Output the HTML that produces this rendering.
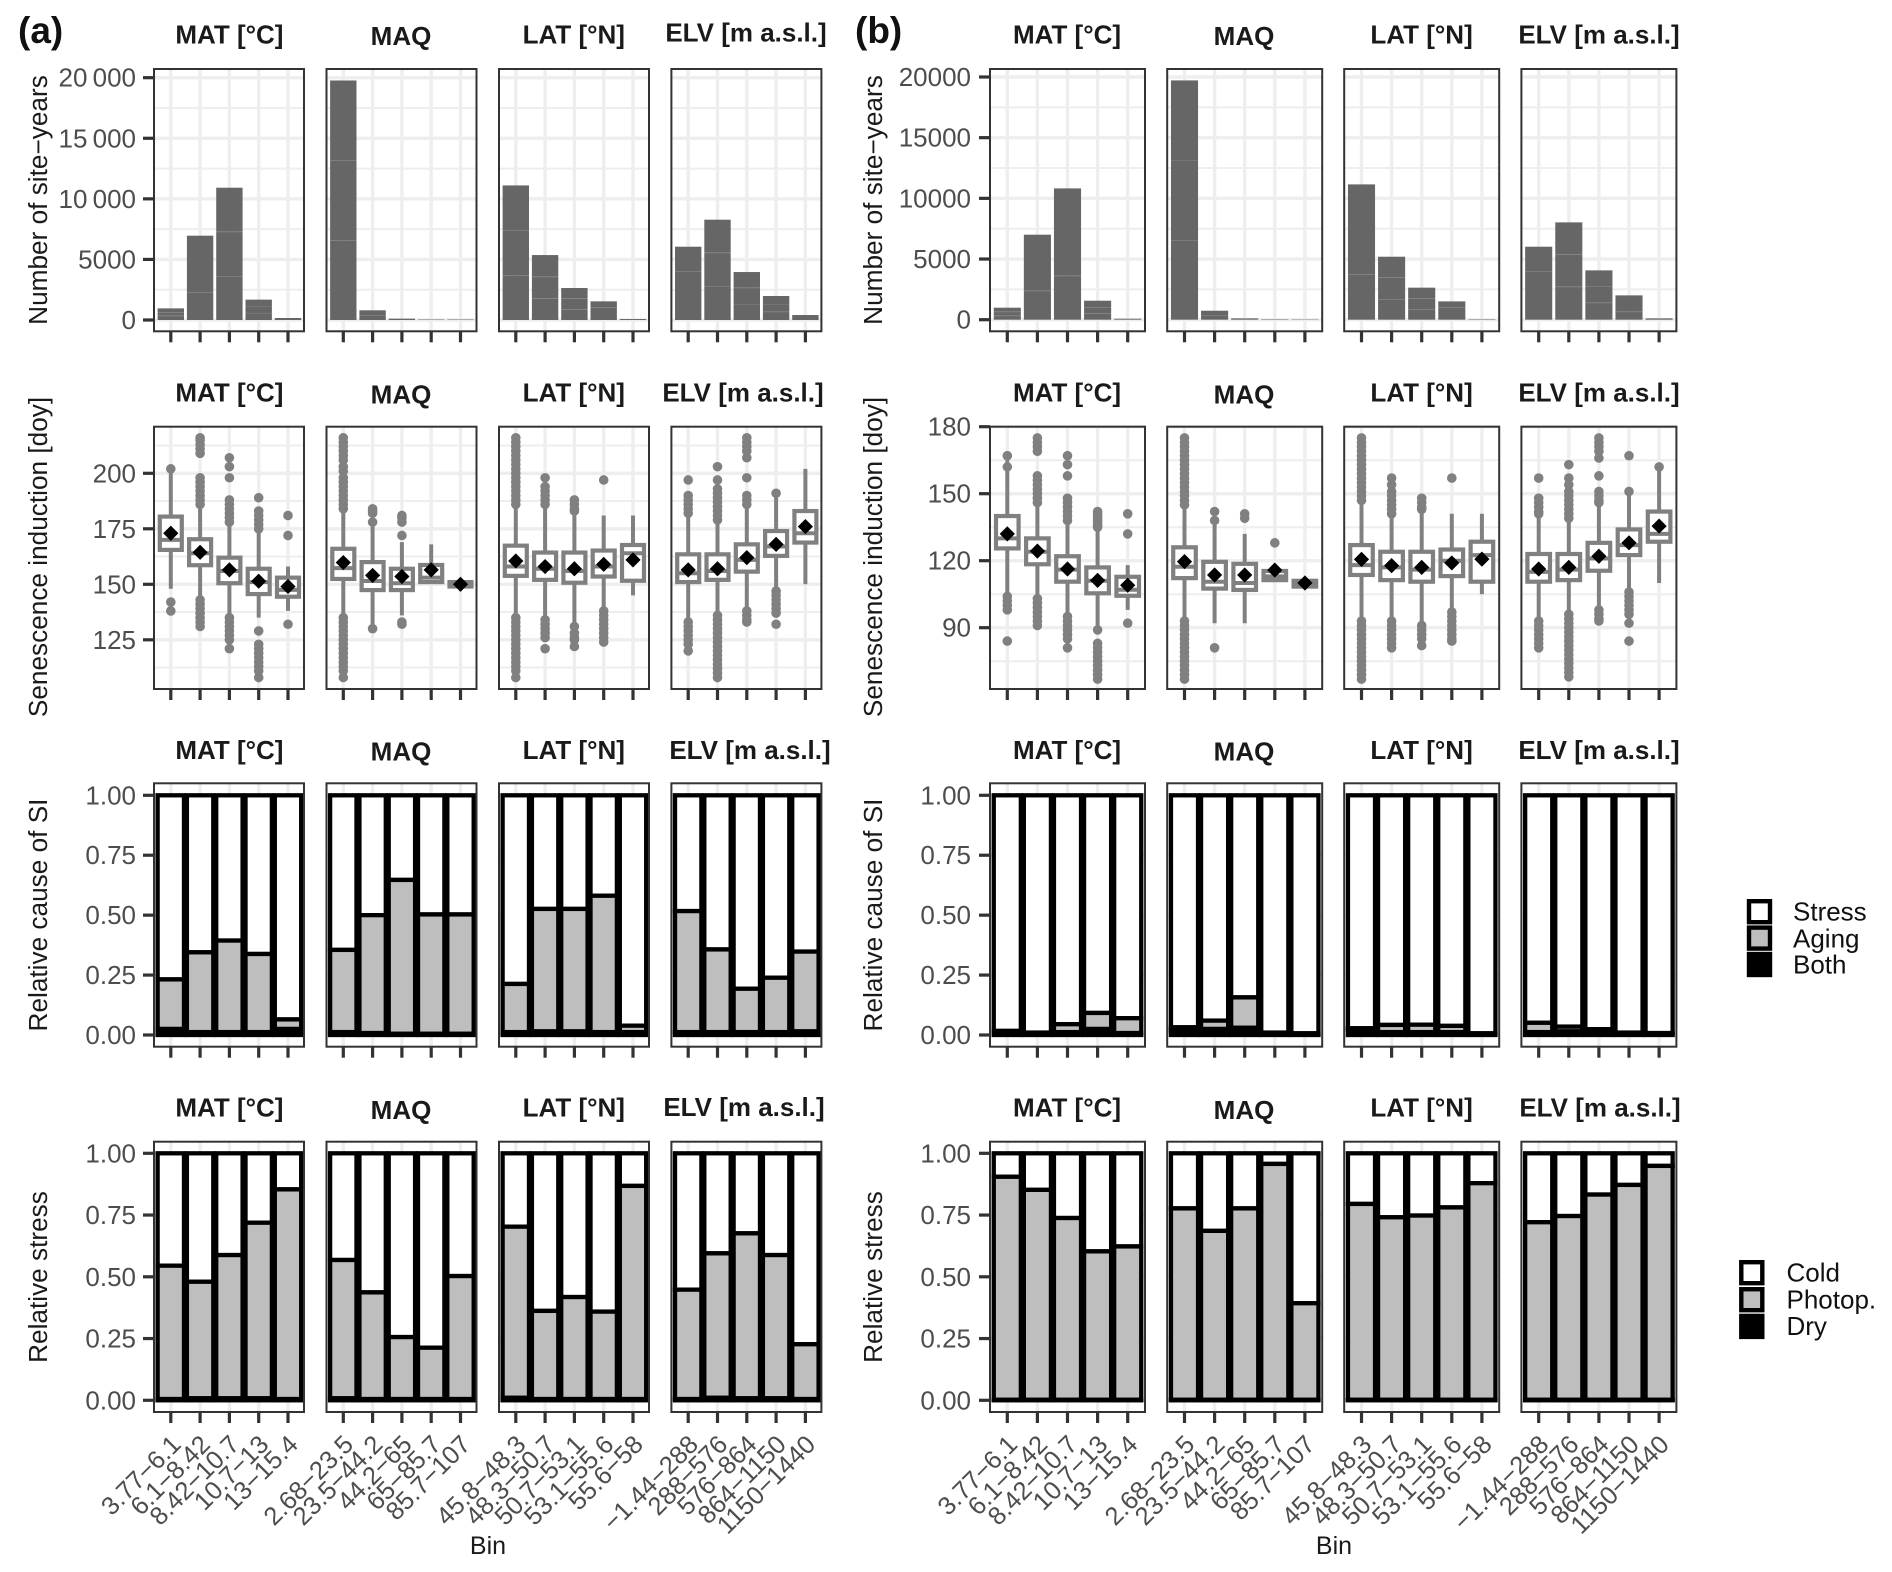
<!DOCTYPE html>
<html lang="en">
<head>
<meta charset="utf-8">
<title>Senescence induction by bin</title>
<style>
html,body{margin:0;padding:0;background:#fff;width:1892px;height:1572px;overflow:hidden}
svg{display:block;font-family:"Liberation Sans",Arial,sans-serif}
.axt{font-size:26.2px;fill:#1a1a1a;text-anchor:middle}
.leg{font-size:26px;fill:#111}
.tag{font-size:37px;font-weight:bold;fill:#111}
</style>
</head>
<body>
<svg id="chart" xmlns="http://www.w3.org/2000/svg" width="1892" height="1572" viewBox="0 0 1892 1572">
  <rect width="1892" height="1572" fill="#fff"/>
  <text class="tag" x="18" y="43">(a)</text>
  <text class="tag" x="855" y="43">(b)</text>

  <text class="axt" transform="translate(47.2,200) rotate(-90)">Number of site−years</text>
  <text class="axt" transform="translate(47.2,557) rotate(-90)">Senescence induction [doy]</text>
  <text class="axt" transform="translate(47.2,915) rotate(-90)">Relative cause of SI</text>
  <text class="axt" transform="translate(47.2,1277) rotate(-90)">Relative stress</text>
  <text class="axt" transform="translate(882,200) rotate(-90)">Number of site−years</text>
  <text class="axt" transform="translate(882,557) rotate(-90)">Senescence induction [doy]</text>
  <text class="axt" transform="translate(882,915) rotate(-90)">Relative cause of SI</text>
  <text class="axt" transform="translate(882,1277) rotate(-90)">Relative stress</text>
  <text x="488" y="1554" text-anchor="middle" font-size="25" fill="#1a1a1a">Bin</text>
  <text x="1334" y="1554" text-anchor="middle" font-size="25" fill="#1a1a1a">Bin</text>

  <g>
    <rect x="1749" y="901.2" width="21" height="21" fill="#fff" stroke="#000" stroke-width="4.4"/>
    <rect x="1749" y="927.6" width="21" height="21" fill="#bebebe" stroke="#000" stroke-width="4.4"/>
    <rect x="1749" y="954" width="21" height="21" fill="#000" stroke="#000" stroke-width="4.4"/>
    <text class="leg" x="1793" y="920.7">Stress</text>
    <text class="leg" x="1793" y="947.3">Aging</text>
    <text class="leg" x="1793" y="973.3">Both</text>
  </g>
  <g>
    <rect x="1741.3" y="1262.2" width="21" height="21" fill="#fff" stroke="#000" stroke-width="4.4"/>
    <rect x="1741.3" y="1289.2" width="21" height="21" fill="#bebebe" stroke="#000" stroke-width="4.4"/>
    <rect x="1741.3" y="1315.9" width="21" height="21" fill="#000" stroke="#000" stroke-width="4.4"/>
    <text class="leg" x="1786.5" y="1281.7">Cold</text>
    <text class="leg" x="1786.5" y="1308.3">Photop.</text>
    <text class="leg" x="1786.5" y="1335">Dry</text>
  </g>
</svg>
<script>
/* ---------- categories ---------- */
const facetTitles = ['MAT [°C]', 'MAQ', 'LAT [°N]', 'ELV [m a.s.l.]'];
const binLabels = [
  ['3.77−6.1', '6.1−8.42', '8.42−10.7', '10.7−13', '13−15.4'],
  ['2.68−23.5', '23.5−44.2', '44.2−65', '65−85.7', '85.7−107'],
  ['45.8−48.3', '48.3−50.7', '50.7−53.1', '53.1−55.6', '55.6−58'],
  ['−1.44−288', '288−576', '576−864', '864−1150', '1150−1440']
];

/* ---------- row 1: site-year counts, stacked segments per bar ---------- */
const countTicksA = [0, 5000, 10000, 15000, 20000];
const countTickLabelsA = ['0', '5000', '10\u2009000', '15\u2009000', '20\u2009000'];
const countTickLabelsB = ['0', '5000', '10000', '15000', '20000'];
const countMinor = [2500, 7500, 12500, 17500];
const countSegA = [
  [[350, 300, 310], [2280, 4680], [3630, 3660, 3630], [580, 575, 525], [165]],
  [[6570, 6630, 6570], [410, 390], [110], [40], [40]],
  [[3685, 3740, 3685], [1790, 1785, 1785], [880, 910, 850], [1045, 495], [80]],
  [[4040, 2010], [2805, 2750, 2725], [1320, 1350, 1290], [690, 630, 660], [410]]
];
const countSegB = [
  [[330, 330, 330], [2390, 4615], [3625, 7195], [520, 495, 550], [80]],
  [[6565, 6595, 6560], [385, 355], [110], [40], [30]],
  [[3735, 7415], [1700, 1790, 1700], [850, 910, 880], [1015, 495], [40]],
  [[4010, 2005], [2720, 2665, 2635], [1400, 1375, 1290], [660, 1345], [110]]
];

/* ---------- row 2: senescence induction boxplots ---------- */
const siTicksA = [125, 150, 175, 200];
const siTickLabelsA = ['125', '150', '175', '200'];
const siMinorA = [112.5, 137.5, 162.5, 187.5, 212.5];
const siTicksB = [90, 120, 150, 180];
const siTickLabelsB = ['90', '120', '150', '180'];
const siMinorB = [75, 105, 135, 165];

const q1A = [
  [165.5, 158.6, 150.5, 145.6, 144.4],
  [152.4, 147.4, 147.4, 151, 149],
  [153.8, 152, 150.7, 153.5, 151.6],
  [151, 152, 155.7, 162.8, 168.8]
];
const medianA = [
  [170, 164, 156, 151, 147.5],
  [157.3, 151.5, 150.5, 153, 150],
  [158, 157, 156, 158, 164],
  [155, 156, 161, 167, 173]
];
const q3A = [
  [180.5, 170.3, 162, 157, 153],
  [166, 160, 157, 158.7, 151],
  [167.4, 164.3, 164.3, 165.2, 167.7],
  [163.5, 163.5, 168, 174, 183]
];
const meanA = [
  [173, 164.4, 156.5, 151.4, 149],
  [159.8, 154, 153.5, 156.5, 150],
  [160.5, 158, 157, 159, 161],
  [156.5, 157, 162, 168, 176]
];
const whiskerLowA = [
  [148, 143, 135, 135, 138],
  [135, 131, 136, 151, 149],
  [135, 134, 132, 138, 145],
  [133, 136, 138, 147, 150]
];
const whiskerHighA = [
  [200, 186, 177.5, 173, 158],
  [184, 176, 169, 168, 151],
  [186, 185, 181, 181, 181],
  [181, 178, 186, 191, 202]
];
const outliersA = [
  [
    [202, 142, 138],
    [216, 215, 213, 211, 209, 198, 196, 194, 192, 190, 188, 186, 143, 141, 139, 137, 135, 133, 131],
    [207, 203, 198, 188, 186, 184, 182, 180, 178, 135, 133, 131, 129, 127, 125, 121],
    [189, 183, 181, 179, 177, 175, 129, 123, 121, 119, 117, 115, 113, 111, 108],
    [181, 172, 132]
  ],
  [
    [216, 214, 212, 210, 208, 206, 203, 201, 198, 196, 194, 192, 190, 188, 186, 184, 135, 133, 131, 129, 127, 125, 123, 121, 119, 117, 115, 113, 111, 108],
    [184, 183, 182, 178, 130],
    [181, 180, 178, 172, 133, 132],
    [],
    []
  ],
  [
    [216, 214, 212, 210, 208, 206, 204, 202, 200, 198, 196, 194, 192, 190, 188, 186, 135, 133, 131, 129, 127, 125, 123, 121, 119, 117, 115, 113, 111, 108],
    [198, 194, 192, 190, 188, 186, 134, 132, 130, 128, 126, 121],
    [188, 186, 184, 183, 131, 128, 126, 125, 122],
    [197, 138, 136, 134, 132, 130, 128, 126, 124],
    []
  ],
  [
    [197, 190, 188, 186, 184, 182, 133, 131, 129, 127, 125, 123, 120],
    [203, 197, 193, 191, 189, 187, 185, 183, 181, 179, 136, 134, 132, 130, 128, 126, 124, 122, 120, 118, 116, 114, 112, 110, 108],
    [216, 214, 212, 210, 207, 198, 190, 188, 186, 138, 136, 134, 133],
    [191, 147, 145, 143, 141, 139, 137, 132],
    []
  ]
];

const q1B = [
  [125.5, 118.4, 110.6, 105.4, 104.3],
  [112.2, 107.5, 106.9, 111.3, 108.4],
  [113.6, 111.3, 110.6, 113.1, 110.6],
  [110.6, 111.3, 115.5, 122.5, 128.5]
];
const medianB = [
  [130, 124, 116, 111, 107],
  [117.3, 110.6, 110, 113, 110],
  [118, 117, 116, 120, 122.5],
  [115, 116, 121, 127, 132]
];
const q3B = [
  [140, 130, 122, 117, 112.8],
  [126, 119.5, 118.6, 115.4, 111],
  [127, 124, 124, 125, 128.5],
  [123, 123, 128, 134, 142]
];
const meanB = [
  [132, 124.3, 116.3, 111.2, 109],
  [119.6, 113.6, 113.6, 115.8, 110],
  [120.6, 117.8, 117, 119, 120.7],
  [116.3, 117, 122, 128, 135.5]
];
const whiskerLowB = [
  [105, 103, 95, 89, 98],
  [93, 92, 92, 111.3, 108.4],
  [93, 92, 92, 97, 105],
  [93, 96, 98, 106, 110]
];
const whiskerHighB = [
  [165, 146, 137, 134, 118],
  [145, 136, 132, 115.4, 111],
  [146, 141, 141, 141, 141],
  [141, 138, 146, 151, 162]
];
const outliersB = [
  [
    [167, 162, 104, 102, 100, 98, 84],
    [175, 173, 171, 169, 158, 156, 154, 152, 150, 148, 146, 103, 101, 99, 97, 95, 93, 91],
    [167, 163, 158, 148, 146, 144, 142, 140, 138, 95, 93, 91, 89, 87, 85, 81],
    [142, 141, 140, 139, 138, 137, 136, 135, 89, 83, 81, 79, 77, 75, 73, 71, 69, 67],
    [141, 132, 92]
  ],
  [
    [175, 173, 171, 169, 167, 165, 163, 161, 159, 157, 155, 153, 151, 149, 147, 145, 93, 91, 89, 87, 85, 83, 81, 79, 77, 75, 73, 71, 69, 67],
    [142, 138, 81],
    [141, 139],
    [128],
    []
  ],
  [
    [175, 173, 171, 169, 167, 165, 163, 161, 159, 157, 155, 153, 151, 149, 147, 93, 91, 89, 87, 85, 83, 81, 79, 77, 75, 73, 71, 69, 67],
    [157, 154, 151, 149, 147, 145, 143, 141, 93, 91, 89, 87, 85, 83, 81],
    [148, 146, 144, 143, 91, 89, 87, 85, 82],
    [157, 97, 95, 93, 91, 89, 87, 85, 84],
    []
  ],
  [
    [157, 148, 146, 144, 142, 141, 93, 91, 89, 87, 85, 83, 81],
    [163, 157, 154, 151, 149, 147, 145, 143, 141, 139, 96, 94, 92, 90, 88, 86, 84, 82, 80, 78, 76, 74, 72, 70, 68],
    [175, 173, 171, 169, 166, 158, 151, 149, 147, 146, 98, 96, 94, 93],
    [167, 151, 106, 104, 102, 100, 98, 96, 92, 84],
    [162]
  ]
];

/* ---------- rows 3 and 4: proportions ---------- */
const propTicks = [0, 0.25, 0.5, 0.75, 1];
const propTickLabels = ['0.00', '0.25', '0.50', '0.75', '1.00'];
const bothA = [
  [.025, .012, .012, .012, .025],
  [.012, .008, .005, .005, .005],
  [.012, .015, .015, .012, .012],
  [.012, .012, .012, .012, .015]
];
const agingA = [
  [.207, .333, .382, .326, .040],
  [.343, .492, .642, .498, .498],
  [.201, .511, .511, .569, .027],
  [.505, .345, .181, .227, .333]
];
const bothB = [
  [.017, .010, .012, .025, .008],
  [.017, .025, .030, .010, .007],
  [.022, .012, .012, .012, .007],
  [.012, .015, .020, .010, .008]
];
const agingB = [
  [0, 0, .033, .067, .062],
  [.015, .035, .127, 0, 0],
  [.006, .030, .031, .026, 0],
  [.039, .020, .004, 0, 0]
];
const dryA = [
  [.005, .008, .008, .008, .005],
  [.008, .005, .005, .005, .005],
  [.010, .005, .005, .005, .005],
  [.005, .010, .008, .008, .005]
];
const photopA = [
  [.540, .472, .580, .711, .849],
  [.560, .432, .251, .208, .498],
  [.693, .357, .413, .354, .863],
  [.443, .585, .668, .580, .222]
];
const dryB = [
  [.002, .002, .002, .002, .002],
  [.002, .002, .002, .002, .002],
  [.002, .002, .002, .002, .002],
  [.002, .002, .002, .002, .002]
];
const photopB = [
  [.903, .850, .736, .601, .621],
  [.775, .684, .775, .955, .391],
  [.793, .739, .746, .779, .877],
  [.719, .744, .831, .870, .947]
];

/* ---------- layout and helpers ---------- */
const NS = 'http://www.w3.org/2000/svg';
const root = document.getElementById('chart');
function mk(tag, attrs, parent, text) {
  const n = document.createElementNS(NS, tag);
  for (const k in attrs) n.setAttribute(k, attrs[k]);
  if (text !== undefined) n.textContent = text;
  parent.appendChild(n);
  return n;
}
function linear(d0, d1, r0, r1) {
  return v => r0 + (v - d0) * (r1 - r0) / (d1 - d0);
}
const GRID = '#eeeeee', BORDER = '#333333', BOXC = '#808080', AXT = '#4d4d4d';

const rowFrames = [
  { top: 69, bottom: 331.3 },
  { top: 426.7, bottom: 689 },
  { top: 783.3, bottom: 1046.7 },
  { top: 1141.7, bottom: 1412 }
];
const titleBase = [
  [43.3, 45, 43.3],
  [401.7, 403.5, 401.7],
  [758.8, 760.5, 758.8],
  [1116.7, 1119, 1116.7]
];

const sideA = {
  lefts: [154, 326.5, 499, 671.4], width: 150, offset: 16.8, step: 29.3,
  tickEnd: 154, tickStart: 143, labelX: 136,
  titleX: [229.4, 401, 573.8], elvX: [746, 743, 750, 744], elvBase: [41.7, 401.7, 758.8, 1116],
  yCount: linear(0, 20000, 320, 77.7), ySi: linear(150, 200, 584.3, 473.3),
  countLabels: countTickLabelsA, counts: countSegA,
  siTicks: siTicksA, siLabels: siTickLabelsA, siMinor: siMinorA,
  q1: q1A, med: medianA, q3: q3A, mean: meanA, wl: whiskerLowA, wh: whiskerHighA, out: outliersA,
  both: bothA, aging: agingA, dry: dryA, photop: photopA
};
const sideB = {
  lefts: [990, 1167.2, 1344.2, 1521.4], width: 155, offset: 17.3, step: 30.1,
  tickEnd: 990, tickStart: 979, labelX: 971,
  titleX: [1067, 1244, 1421.6], elvX: [1599, 1599, 1599, 1600], elvBase: [43.3, 401.7, 758.8, 1116.7],
  yCount: linear(0, 20000, 319.7, 77), ySi: linear(120, 180, 560.7, 426.7),
  countLabels: countTickLabelsB, counts: countSegB,
  siTicks: siTicksB, siLabels: siTickLabelsB, siMinor: siMinorB,
  q1: q1B, med: medianB, q3: q3B, mean: meanB, wl: whiskerLowB, wh: whiskerHighB, out: outliersB,
  both: bothB, aging: agingB, dry: dryB, photop: photopB
};
const yCause = linear(0, 1, 1035, 795.3);
const yStress = linear(0, 1, 1400.3, 1153.3);

function xBin(side, p, i) { return side.lefts[p] + side.offset + i * side.step; }

function drawYAxis(side, parent, ticks, labels, y) {
  ticks.forEach((t, k) => {
    const tick = mk('line', { x1: side.tickStart, x2: side.tickEnd, y1: y(t), y2: y(t), stroke: BORDER, 'stroke-width': 3.2 }, parent);
    
    
    const lab = mk('text', { x: side.labelX, y: y(t) + 9, 'text-anchor': 'end', 'font-size': 26, fill: AXT }, parent, labels[k]);
    
    
  });
}

function drawGrid(side, p, frame, parent, major, minor, y) {
  const x0 = side.lefts[p], x1 = x0 + side.width;
  minor.forEach(v => {
    const g = mk('line', { x1: x0, x2: x1, y1: y(v), y2: y(v), stroke: GRID, 'stroke-width': 2 }, parent);
    
    
  });
  major.forEach(v => {
    const g = mk('line', { x1: x0, x2: x1, y1: y(v), y2: y(v), stroke: GRID, 'stroke-width': 3.4 }, parent);
    
    
  });
  for (let i = 0; i < 5; i++) {
    const g = mk('line', { x1: xBin(side, p, i), x2: xBin(side, p, i), y1: frame.top, y2: frame.bottom, stroke: GRID, 'stroke-width': 3.4 }, parent);
    
    
  }
}

function drawFrame(side, p, frame, parent) {
  const b = mk('rect', { x: side.lefts[p], y: frame.top, width: side.width, height: frame.bottom - frame.top, fill: 'none', stroke: BORDER, 'stroke-width': 2 }, parent);
  
  
  for (let i = 0; i < 5; i++) {
    const t = mk('line', { x1: xBin(side, p, i), x2: xBin(side, p, i), y1: frame.bottom, y2: frame.bottom + 11, stroke: BORDER, 'stroke-width': 3.2 }, parent);
    
    
  }
}

function drawTitle(side, row, p, parent) {
  const x = p === 3 ? side.elvX[row] : side.titleX[p];
  const y = p === 3 ? side.elvBase[row] : titleBase[row][p];
  const t = mk('text', { x: x, y: y, 'text-anchor': 'middle', 'font-size': 26, 'font-weight': 'bold', fill: '#1a1a1a' }, parent, facetTitles[p]);
  
  
}

function drawCounts(side, p, parent) {
  const y = side.yCount, w = side.step * 0.9;
  side.counts[p].forEach((segs, i) => {
    const x = xBin(side, p, i) - w / 2;
    let base = 0;
    segs.forEach((s, k) => {
      const r = mk('rect', { x: x, y: y(base + s), width: w, height: y(base) - y(base + s), fill: '#666666' }, parent);
      
      
      base += s;
      if (k < segs.length - 1) {
        const seam = mk('line', { x1: x, x2: x + w, y1: y(base), y2: y(base), stroke: 'rgba(255,255,255,0.2)', 'stroke-width': 1.1 }, parent);
        
        
      }
    });
  });
}

function drawBoxes(side, p, parent) {
  const y = side.ySi, w = side.step * 0.75;
  for (let i = 0; i < 5; i++) {
    const cx = xBin(side, p, i);
    const wh = mk('line', { x1: cx, x2: cx, y1: y(side.wl[p][i]), y2: y(side.wh[p][i]), stroke: BOXC, 'stroke-width': 4 }, parent);
    
    
    side.out[p][i].forEach(v => {
      const c = mk('circle', { cx: cx, cy: y(v), r: 4.8, fill: BOXC }, parent);
      
      
    });
    const box = mk('rect', { x: cx - w / 2, y: y(side.q3[p][i]), width: w, height: y(side.q1[p][i]) - y(side.q3[p][i]), fill: '#fff', stroke: BOXC, 'stroke-width': 4.2 }, parent);
    
    
    const m = mk('line', { x1: cx - w / 2, x2: cx + w / 2, y1: y(side.med[p][i]), y2: y(side.med[p][i]), stroke: BOXC, 'stroke-width': 4 }, parent);
    
    
    const my = y(side.mean[p][i]);
    const d = mk('polygon', { points: (cx - 7.6) + ',' + my + ' ' + cx + ',' + (my - 7.6) + ' ' + (cx + 7.6) + ',' + my + ' ' + cx + ',' + (my + 7.6), fill: '#000' }, parent);
    
    
  }
}

function drawStacks(side, p, parent, lower, middle, midFill, y) {
  const w = side.step * 0.9;
  for (let i = 0; i < 5; i++) {
    const x = xBin(side, p, i) - w / 2;
    const a = lower[p][i], b = a + middle[p][i];
    const top = mk('rect', { x: x, y: y(1), width: w, height: y(b) - y(1), fill: '#fff', stroke: '#000', 'stroke-width': 4.3 }, parent);
    
    
    const mid = mk('rect', { x: x, y: y(b), width: w, height: y(a) - y(b), fill: midFill, stroke: '#000', 'stroke-width': 4.3 }, parent);
    
    
    const low = mk('rect', { x: x, y: y(a), width: w, height: y(0) - y(a), fill: '#000', stroke: '#000', 'stroke-width': 4.3 }, parent);
    
    
  }
}

function drawBinLabels(side, p, parent) {
  binLabels[p].forEach((label, i) => {
    const x = xBin(side, p, i) + 11.5, y = 1446;
    const t = mk('text', { x: x, y: y, 'text-anchor': 'end', 'font-size': 25.5, fill: AXT, transform: 'rotate(-45 ' + x + ' ' + y + ')' }, parent, label);
    
    
  });
}

[sideA, sideB].forEach(side => {
  const axes = mk('g', {}, root);
  
  
  drawYAxis(side, axes, countTicksA, side.countLabels, side.yCount);
  drawYAxis(side, axes, side.siTicks, side.siLabels, side.ySi);
  drawYAxis(side, axes, propTicks, propTickLabels, yCause);
  drawYAxis(side, axes, propTicks, propTickLabels, yStress);

  for (let p = 0; p < 4; p++) {
    const g1 = mk('g', {}, root);
    
    
    drawTitle(side, 0, p, g1);
    drawGrid(side, p, rowFrames[0], g1, countTicksA, countMinor, side.yCount);
    drawCounts(side, p, g1);
    drawFrame(side, p, rowFrames[0], g1);

    const g2 = mk('g', {}, root);
    
    
    drawTitle(side, 1, p, g2);
    drawGrid(side, p, rowFrames[1], g2, side.siTicks, side.siMinor, side.ySi);
    drawBoxes(side, p, g2);
    drawFrame(side, p, rowFrames[1], g2);

    const g3 = mk('g', {}, root);
    
    
    drawTitle(side, 2, p, g3);
    drawGrid(side, p, rowFrames[2], g3, propTicks, [], yCause);
    drawStacks(side, p, g3, side.both, side.aging, '#bebebe', yCause);
    drawFrame(side, p, rowFrames[2], g3);

    const g4 = mk('g', {}, root);
    
    
    drawTitle(side, 3, p, g4);
    drawGrid(side, p, rowFrames[3], g4, propTicks, [], yStress);
    drawStacks(side, p, g4, side.dry, side.photop, '#bebebe', yStress);
    drawFrame(side, p, rowFrames[3], g4);
    drawBinLabels(side, p, g4);
  }
});
</script>
</body>
</html>
